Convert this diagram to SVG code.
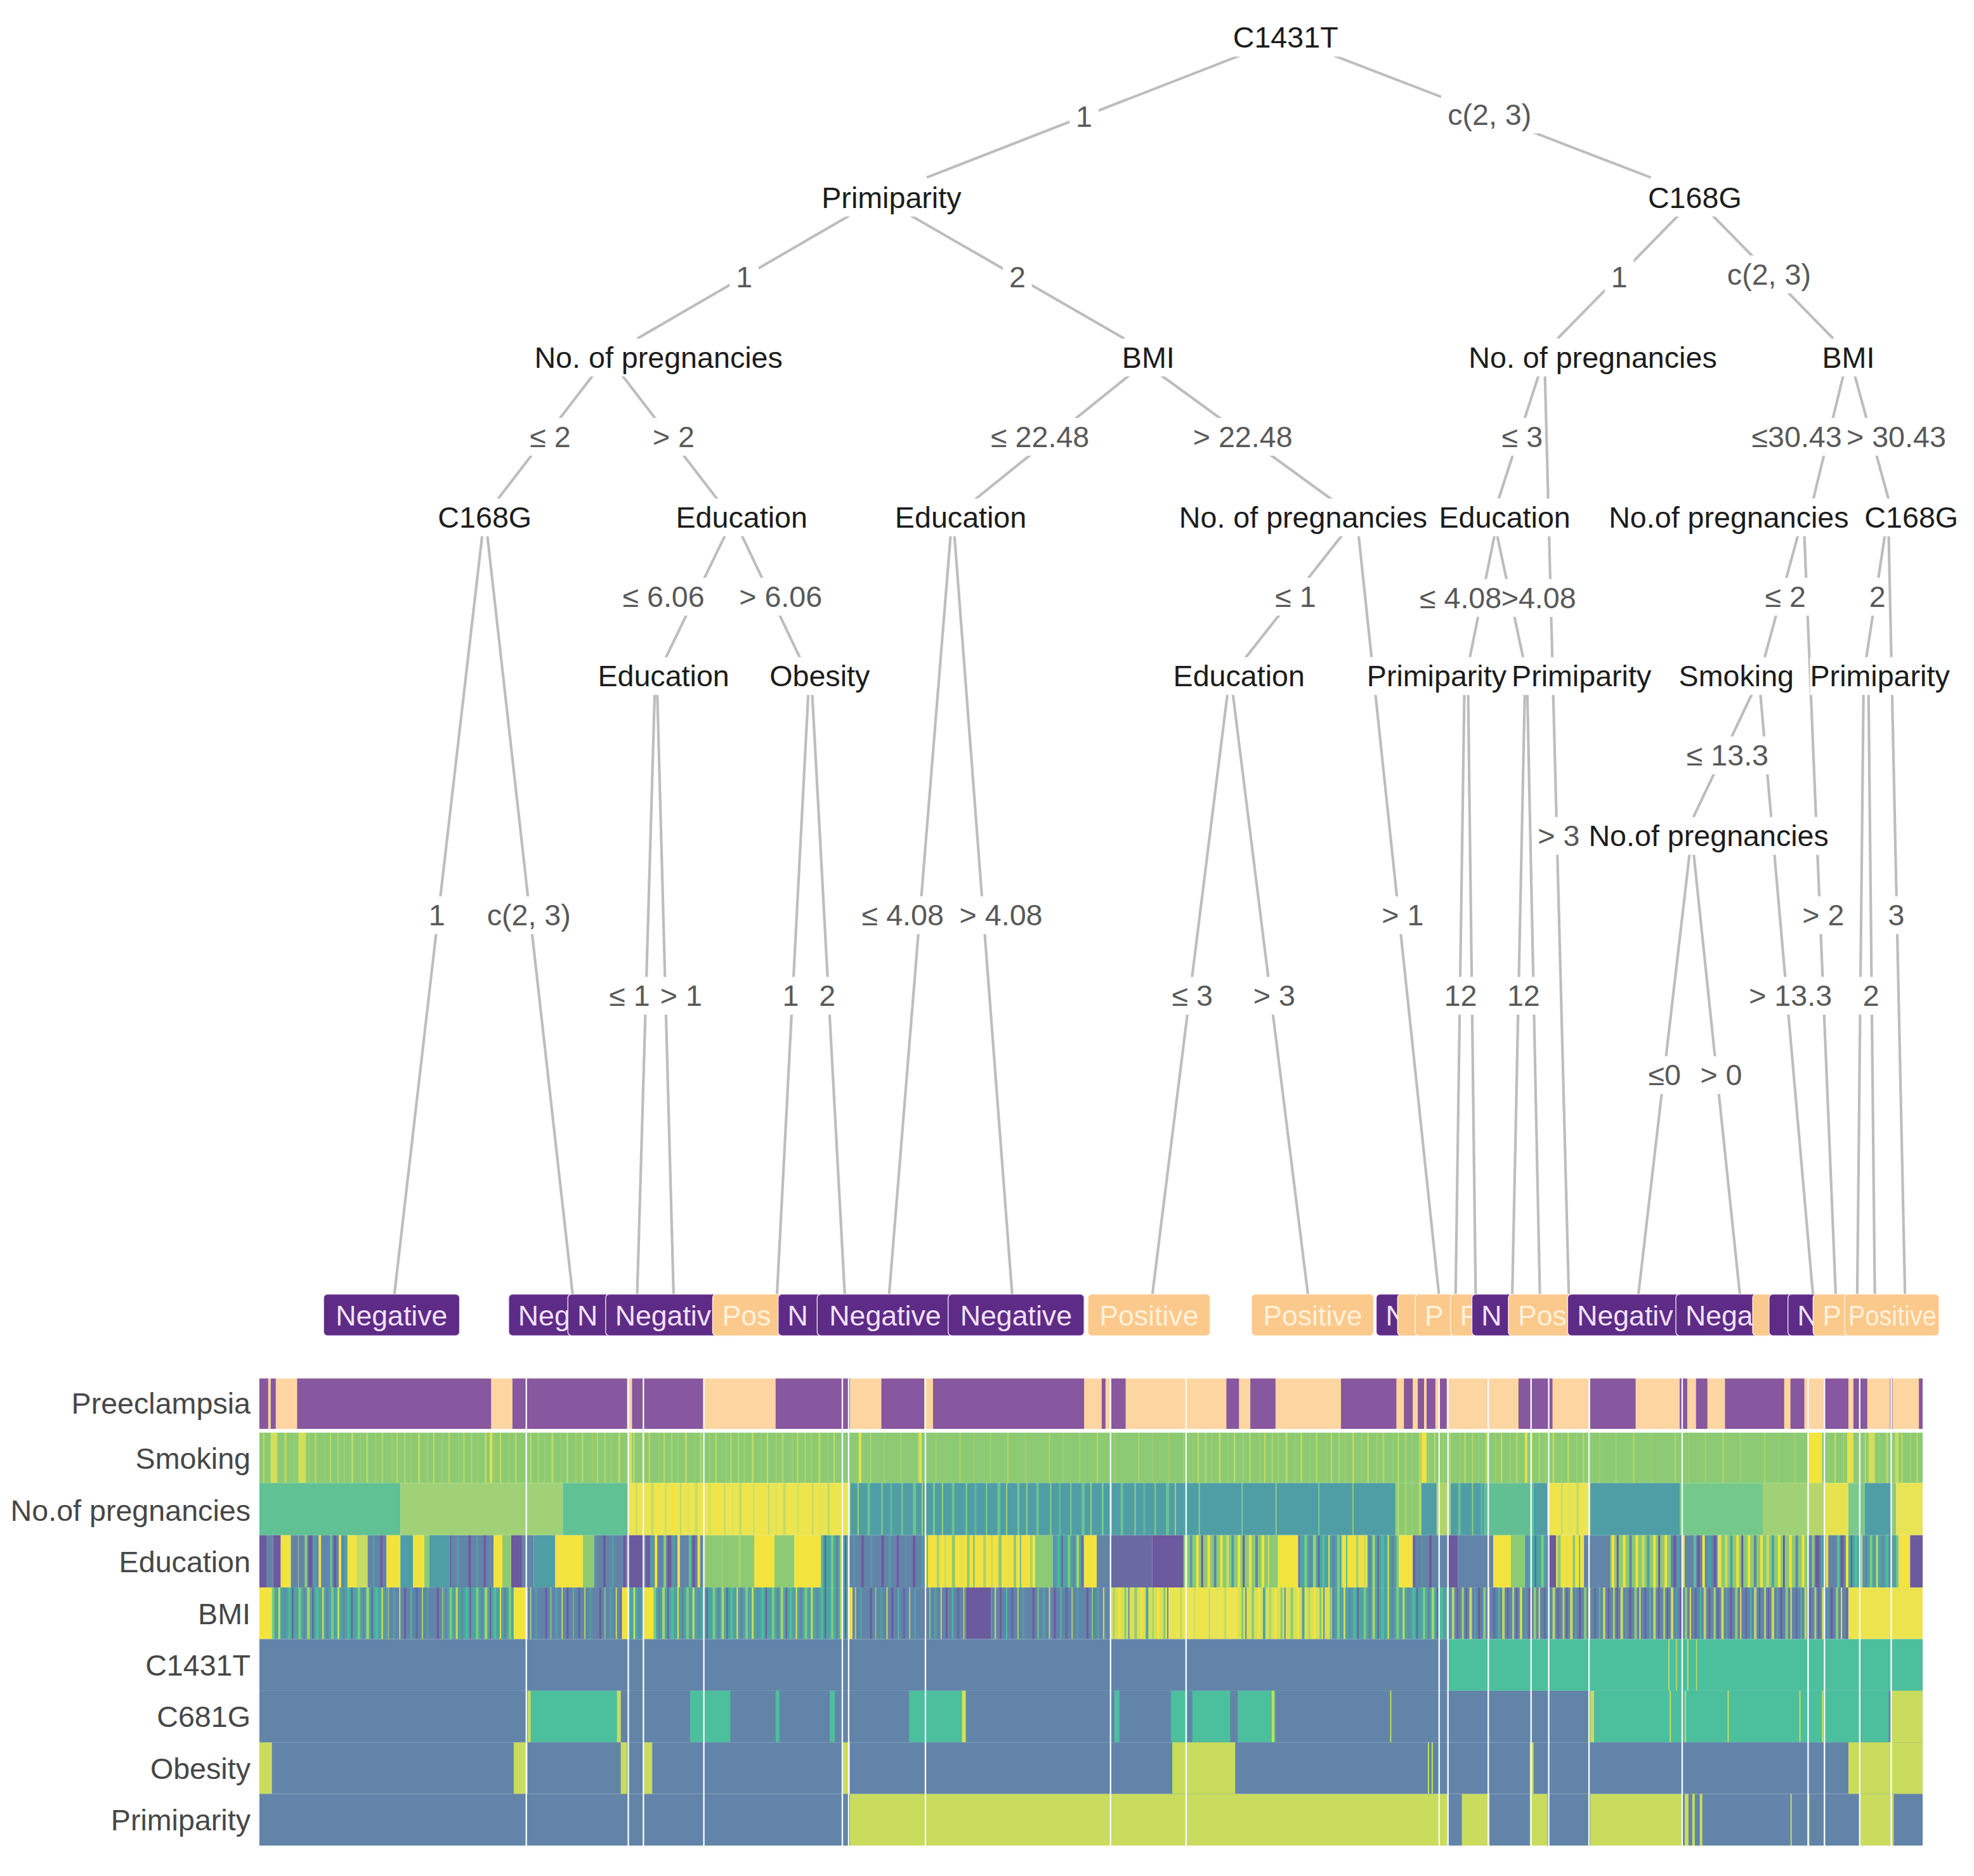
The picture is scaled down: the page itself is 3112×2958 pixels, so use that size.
<svg xmlns="http://www.w3.org/2000/svg" width="3112" height="2958" viewBox="0 0 3112 2958">
<style>
.n{font-family:"Liberation Sans",Arial,sans-serif;font-size:23.5px;fill:#1c1c1c;text-anchor:middle}
.e{font-family:"Liberation Sans",Arial,sans-serif;font-size:23.5px;fill:#595959;text-anchor:middle}
.rl{font-family:"Liberation Sans",Arial,sans-serif;font-size:23.5px;fill:#474747;text-anchor:end}
.lt{font-family:"Liberation Sans",Arial,sans-serif;font-size:22.5px;text-anchor:middle}
.ls{font-family:"Liberation Sans",Arial,sans-serif;font-size:22.5px;text-anchor:start}
.ng{fill:#f1e1fb}.ps{fill:#fff1dc}
.bg{fill:#fff}
.ed line{stroke:#bdbdbd;stroke-width:2.1;fill:none}
.lp{fill:#5e2b86;stroke:#efe4f5;stroke-width:0.7}
.lo{fill:#fbc98b;stroke:#fff4e6;stroke-width:0.7}
.pu{fill:#87579f}.pc{fill:#fdd5a1}.bl{fill:#6384a9}.tg{fill:#4cbf9d}.yg{fill:#c9dc5d}.ye{fill:#f3e33e}.gr{fill:#8ccb74}.te{fill:#4f9ea6}.pr{fill:#6b5a9e}
.sep{fill:#f5f9fc}
</style>
<defs>
<pattern id="pSmk" width="53" height="10" patternUnits="userSpaceOnUse"><rect width="53" height="10" fill="#8ccb74"/><rect x="3" width="1" height="10" fill="#b3d669"/><rect x="8" width="0.7" height="10" fill="#a5d26d"/><rect x="14" width="1.5" height="10" fill="#bfda63"/><rect x="21" width="0.8" height="10" fill="#9fd070"/><rect x="26" width="1" height="10" fill="#c9dd5e"/><rect x="33" width="0.7" height="10" fill="#acd46b"/><rect x="38" width="1.3" height="10" fill="#b7d767"/><rect x="46" width="0.8" height="10" fill="#a0d06f"/><rect x="50" width="1" height="10" fill="#c2db61"/></pattern>
<pattern id="pSmk2" width="71" height="10" patternUnits="userSpaceOnUse"><rect width="71" height="10" fill="#8ccb74"/><rect x="5" width="0.8" height="10" fill="#a9d36b"/><rect x="19" width="1" height="10" fill="#b8d767"/><rect x="33" width="0.8" height="10" fill="#a2d16e"/><rect x="52" width="1" height="10" fill="#b1d569"/><rect x="63" width="0.7" height="10" fill="#a6d26c"/></pattern>
<pattern id="pEdu" width="57" height="10" patternUnits="userSpaceOnUse"><rect width="57" height="10" fill="#6384a9"/><rect x="0" width="3" height="10" fill="#6b5a9e"/><rect x="4" width="2" height="10" fill="#4f9fa6"/><rect x="7" width="2" height="10" fill="#f2e340"/><rect x="14" width="2" height="10" fill="#8ccb74"/><rect x="17" width="3" height="10" fill="#6b5a9e"/><rect x="21" width="2" height="10" fill="#4fa0a6"/><rect x="25" width="2" height="10" fill="#e9e24a"/><rect x="34" width="2" height="10" fill="#5dbf92"/><rect x="37" width="2" height="10" fill="#6b5a9e"/><rect x="41" width="2" height="10" fill="#f4e33c"/><rect x="45" width="3" height="10" fill="#4f9fa6"/><rect x="50" width="2" height="10" fill="#6b5a9e"/><rect x="53" width="2" height="10" fill="#c9dc5d"/></pattern>
<pattern id="pEduB" width="41" height="10" patternUnits="userSpaceOnUse"><rect width="41" height="10" fill="#6384a9"/><rect x="3" width="2" height="10" fill="#6b5a9e"/><rect x="9" width="1.5" height="10" fill="#4f9fa6"/><rect x="15" width="2" height="10" fill="#6d5f9f"/><rect x="22" width="1" height="10" fill="#5b94a8"/><rect x="28" width="2" height="10" fill="#6b5a9e"/><rect x="35" width="1.5" height="10" fill="#4f9fa6"/></pattern>
<pattern id="pEduY" width="37" height="10" patternUnits="userSpaceOnUse"><rect width="37" height="10" fill="#f2e241"/><rect x="4" width="2" height="10" fill="#a8d36b"/><rect x="10" width="1.5" height="10" fill="#c9dc5d"/><rect x="16" width="2.5" height="10" fill="#8ccb74"/><rect x="23" width="1" height="10" fill="#dfe150"/><rect x="28" width="2" height="10" fill="#8ccb74"/><rect x="33" width="1" height="10" fill="#5dbf92"/></pattern>
<pattern id="pEduG" width="33" height="10" patternUnits="userSpaceOnUse"><rect width="33" height="10" fill="#8ccb74"/><rect x="2" width="2" height="10" fill="#f4e33c"/><rect x="7" width="2" height="10" fill="#6384a9"/><rect x="12" width="2" height="10" fill="#f4e33c"/><rect x="17" width="2" height="10" fill="#c9dc5d"/><rect x="21" width="2" height="10" fill="#4f9fa6"/><rect x="26" width="2" height="10" fill="#f4e33c"/><rect x="30" width="1.5" height="10" fill="#6b5a9e"/></pattern>
<pattern id="pBmi" width="47" height="10" patternUnits="userSpaceOnUse"><rect width="47" height="10" fill="#4fa3a3"/><rect x="2" width="2" height="10" fill="#7ccb7c"/><rect x="6" width="1.5" height="10" fill="#6384a9"/><rect x="9" width="2" height="10" fill="#a8d46a"/><rect x="13" width="1" height="10" fill="#6b5a9e"/><rect x="16" width="2" height="10" fill="#4cbf9d"/><rect x="21" width="1" height="10" fill="#f0e342"/><rect x="24" width="2" height="10" fill="#6384a9"/><rect x="28" width="2" height="10" fill="#7ccb7c"/><rect x="33" width="1.5" height="10" fill="#c9dc5d"/><rect x="37" width="2" height="10" fill="#5b8fa8"/><rect x="41" width="1.5" height="10" fill="#4cbf9d"/><rect x="44" width="1" height="10" fill="#6b5a9e"/></pattern>
<pattern id="pBmiB" width="43" height="10" patternUnits="userSpaceOnUse"><rect width="43" height="10" fill="#6384a9"/><rect x="3" width="1.5" height="10" fill="#6b5a9e"/><rect x="7" width="1" height="10" fill="#7ccb7c"/><rect x="11" width="2" height="10" fill="#4f9fa6"/><rect x="16" width="1" height="10" fill="#c9dc5d"/><rect x="20" width="1.5" height="10" fill="#6b5a9e"/><rect x="25" width="1" height="10" fill="#4cbf9d"/><rect x="29" width="2" height="10" fill="#5a6fa3"/><rect x="34" width="1" height="10" fill="#a8d46a"/><rect x="38" width="1.5" height="10" fill="#4f9fa6"/></pattern>
<pattern id="pBmiM" width="40" height="10" patternUnits="userSpaceOnUse"><rect width="40" height="10" fill="#6384a9"/><rect x="1" width="1.5" height="10" fill="#a8d46a"/><rect x="4" width="1" height="10" fill="#6b5a9e"/><rect x="7" width="2" height="10" fill="#c9dc5d"/><rect x="11" width="1" height="10" fill="#4fa3a3"/><rect x="14" width="1.5" height="10" fill="#6b5a9e"/><rect x="18" width="2" height="10" fill="#8ccb74"/><rect x="22" width="1" height="10" fill="#e8e24c"/><rect x="26" width="1.5" height="10" fill="#5a6fa3"/><rect x="30" width="1" height="10" fill="#4cbf9d"/><rect x="33" width="2" height="10" fill="#b7d768"/><rect x="37" width="1" height="10" fill="#6b5a9e"/></pattern>
<pattern id="pBmiY" width="31" height="10" patternUnits="userSpaceOnUse"><rect width="31" height="10" fill="#d7e057"/><rect x="2" width="2" height="10" fill="#8ccb74"/><rect x="7" width="1.5" height="10" fill="#f2e341"/><rect x="11" width="2" height="10" fill="#4fa3a3"/><rect x="16" width="1.5" height="10" fill="#a8d46a"/><rect x="20" width="2" height="10" fill="#f4e33c"/><rect x="25" width="1.5" height="10" fill="#7ccb7c"/><rect x="28" width="1" height="10" fill="#6384a9"/></pattern>
<pattern id="pPregT" width="67" height="10" patternUnits="userSpaceOnUse"><rect width="67" height="10" fill="#4f9ea6"/><rect x="4" width="1.5" height="10" fill="#7cc98a"/><rect x="11" width="1" height="10" fill="#a3d174"/><rect x="19" width="2" height="10" fill="#6cc292"/><rect x="30" width="1" height="10" fill="#98cf78"/><rect x="37" width="1.5" height="10" fill="#5fb89a"/><rect x="46" width="1" height="10" fill="#8ccb80"/><rect x="55" width="2.5" height="10" fill="#6cc292"/><rect x="62" width="1" height="10" fill="#a3d174"/></pattern>
<pattern id="pPregTs" width="61" height="10" patternUnits="userSpaceOnUse"><rect width="61" height="10" fill="#4f9ea6"/><rect x="10" width="1" height="10" fill="#7cc98a"/><rect x="37" width="1" height="10" fill="#8fcc80"/></pattern>
<pattern id="pPregY" width="35" height="10" patternUnits="userSpaceOnUse"><rect width="35" height="10" fill="#ece552"/><rect x="3" width="1.5" height="10" fill="#d4e05a"/><rect x="9" width="2" height="10" fill="#f5e43c"/><rect x="15" width="1" height="10" fill="#bdd966"/><rect x="21" width="1.5" height="10" fill="#e0e257"/><rect x="27" width="2" height="10" fill="#c6dc60"/><rect x="32" width="1" height="10" fill="#f5e43c"/></pattern>
</defs>
<rect width="3112" height="2958" fill="#fff"/>
<g transform="scale(1.985)">
<g id="connectors" class="ed">
<line x1="985" y1="44" x2="736" y2="141"/>
<line x1="1059" y1="44" x2="1311" y2="141"/>
<line x1="675" y1="171" x2="506" y2="269"/>
<line x1="723" y1="171" x2="893" y2="269"/>
<line x1="1333" y1="171" x2="1237" y2="269"/>
<line x1="1360" y1="171" x2="1456" y2="269"/>
<line x1="471" y1="298" x2="395" y2="397"/>
<line x1="494" y1="298" x2="570" y2="397"/>
<line x1="897" y1="298" x2="774" y2="397"/>
<line x1="922" y1="298" x2="1058" y2="397"/>
<line x1="1222" y1="298" x2="1190" y2="397"/>
<line x1="1227" y1="298" x2="1246" y2="1030"/>
<line x1="1464" y1="298" x2="1440" y2="397"/>
<line x1="1473" y1="298" x2="1500" y2="397"/>
<line x1="383" y1="425" x2="313" y2="1030"/>
<line x1="387" y1="425" x2="455" y2="1030"/>
<line x1="576" y1="425" x2="528" y2="524"/>
<line x1="589" y1="425" x2="636" y2="524"/>
<line x1="755" y1="425" x2="706" y2="1030"/>
<line x1="758" y1="425" x2="804" y2="1030"/>
<line x1="1066" y1="425" x2="988" y2="524"/>
<line x1="1079" y1="425" x2="1143" y2="1030"/>
<line x1="1187" y1="425" x2="1167" y2="524"/>
<line x1="1189" y1="425" x2="1210" y2="524"/>
<line x1="1428" y1="425" x2="1401" y2="524"/>
<line x1="1433" y1="425" x2="1458" y2="1030"/>
<line x1="1497" y1="425" x2="1482" y2="524"/>
<line x1="1500" y1="425" x2="1513" y2="1030"/>
<line x1="520" y1="550" x2="506" y2="1030"/>
<line x1="522" y1="550" x2="535" y2="1030"/>
<line x1="642" y1="550" x2="617" y2="1030"/>
<line x1="645" y1="550" x2="671" y2="1030"/>
<line x1="975" y1="550" x2="915" y2="1030"/>
<line x1="979" y1="550" x2="1039" y2="1030"/>
<line x1="1163" y1="550" x2="1156" y2="1030"/>
<line x1="1166" y1="550" x2="1172" y2="1030"/>
<line x1="1211" y1="550" x2="1201" y2="1030"/>
<line x1="1213" y1="550" x2="1223" y2="1030"/>
<line x1="1392" y1="550" x2="1344" y2="651"/>
<line x1="1398" y1="550" x2="1440" y2="1030"/>
<line x1="1480" y1="550" x2="1475" y2="1030"/>
<line x1="1484" y1="550" x2="1489" y2="1030"/>
<line x1="1342" y1="677" x2="1301" y2="1030"/>
<line x1="1345" y1="677" x2="1382" y2="1030"/>
</g>
<g id="edge-labels">
<rect class="bg" x="849.5" y="78" width="23" height="30"/><text class="e" x="861" y="101">1</text>
<rect class="bg" x="1144.5" y="76" width="77" height="30"/><text class="e" x="1183" y="99">c(2, 3)</text>
<rect class="bg" x="579.5" y="205" width="23" height="30"/><text class="e" x="591" y="228">1</text>
<rect class="bg" x="796.5" y="205" width="23" height="30"/><text class="e" x="808" y="228">2</text>
<rect class="bg" x="1274.5" y="205" width="23" height="30"/><text class="e" x="1286" y="228">1</text>
<rect class="bg" x="1366.5" y="203" width="77" height="30"/><text class="e" x="1405" y="226">c(2, 3)</text>
<rect class="bg" x="415.5" y="332" width="43" height="30"/><text class="e" x="437" y="355">≤ 2</text>
<rect class="bg" x="513.5" y="332" width="43" height="30"/><text class="e" x="535" y="355">&gt; 2</text>
<rect class="bg" x="782" y="332" width="88" height="30"/><text class="e" x="826" y="355">≤ 22.48</text>
<rect class="bg" x="942.5" y="332" width="89" height="30"/><text class="e" x="987" y="355">&gt; 22.48</text>
<rect class="bg" x="1189" y="332" width="37" height="30"/><text class="e" x="1209" y="355">≤ 3</text>
<rect class="bg" x="1386" y="332" width="82" height="30"/><text class="e" x="1427" y="355">≤30.43</text>
<rect class="bg" x="1466.5" y="332" width="83" height="30"/><text class="e" x="1506" y="355">&gt; 30.43</text>
<rect class="bg" x="489.5" y="459" width="75" height="30"/><text class="e" x="527" y="482">≤ 6.06</text>
<rect class="bg" x="582" y="459" width="76" height="30"/><text class="e" x="620" y="482">&gt; 6.06</text>
<rect class="bg" x="1007.5" y="459" width="43" height="30"/><text class="e" x="1029" y="482">≤ 1</text>
<rect class="bg" x="1124.5" y="460" width="70" height="30"/><text class="e" x="1160" y="483">≤ 4.08</text>
<rect class="bg" x="1192" y="460" width="62" height="30"/><text class="e" x="1222" y="483">&gt;4.08</text>
<rect class="bg" x="1396.5" y="459" width="43" height="30"/><text class="e" x="1418" y="482">≤ 2</text>
<rect class="bg" x="1483" y="459" width="16" height="30"/><text class="e" x="1491" y="482">2</text>
<rect class="bg" x="1334.5" y="585" width="75" height="30"/><text class="e" x="1372" y="608">≤ 13.3</text>
<rect class="bg" x="1217.5" y="649" width="41" height="30"/><text class="e" x="1238" y="672">&gt; 3</text>
<rect class="bg" x="335.5" y="712" width="23" height="30"/><text class="e" x="347" y="735">1</text>
<rect class="bg" x="381.5" y="712" width="77" height="30"/><text class="e" x="420" y="735">c(2, 3)</text>
<rect class="bg" x="679.5" y="712" width="75" height="30"/><text class="e" x="717" y="735">≤ 4.08</text>
<rect class="bg" x="757" y="712" width="76" height="30"/><text class="e" x="795" y="735">&gt; 4.08</text>
<rect class="bg" x="1092.5" y="712" width="43" height="30"/><text class="e" x="1114" y="735">&gt; 1</text>
<rect class="bg" x="1426.5" y="712" width="43" height="30"/><text class="e" x="1448" y="735">&gt; 2</text>
<rect class="bg" x="1494.5" y="712" width="23" height="30"/><text class="e" x="1506" y="735">3</text>
<rect class="bg" x="478.5" y="776" width="43" height="30"/><text class="e" x="500" y="799">≤ 1</text>
<rect class="bg" x="519.5" y="776" width="43" height="30"/><text class="e" x="541" y="799">&gt; 1</text>
<rect class="bg" x="616.5" y="776" width="23" height="30"/><text class="e" x="628" y="799">1</text>
<rect class="bg" x="645.5" y="776" width="23" height="30"/><text class="e" x="657" y="799">2</text>
<rect class="bg" x="925.5" y="776" width="43" height="30"/><text class="e" x="947" y="799">≤ 3</text>
<rect class="bg" x="990.5" y="776" width="43" height="30"/><text class="e" x="1012" y="799">&gt; 3</text>
<rect class="bg" x="1142" y="776" width="36" height="30"/><text class="e" x="1160" y="799">12</text>
<rect class="bg" x="1192" y="776" width="36" height="30"/><text class="e" x="1210" y="799">12</text>
<rect class="bg" x="1384" y="776" width="76" height="30"/><text class="e" x="1422" y="799">&gt; 13.3</text>
<rect class="bg" x="1474.5" y="776" width="23" height="30"/><text class="e" x="1486" y="799">2</text>
<rect class="bg" x="1304" y="839" width="36" height="30"/><text class="e" x="1322" y="862">≤0</text>
<rect class="bg" x="1345.5" y="839" width="43" height="30"/><text class="e" x="1367" y="862">&gt; 0</text>
</g>
<g id="node-C1431T"><rect class="bg" x="975" y="15" width="92" height="30"/><text class="n" x="1021" y="38">C1431T</text></g>
<g id="node-Primiparity-1"><rect class="bg" x="648.5" y="142" width="119" height="30"/><text class="n" x="708" y="165">Primiparity</text></g>
<g id="node-C168G-1"><rect class="bg" x="1305" y="142" width="82" height="30"/><text class="n" x="1346" y="165">C168G</text></g>
<g id="node-Pregnancies-1"><rect class="bg" x="420.5" y="269" width="205" height="30"/><text class="n" x="523" y="292">No. of pregnancies</text></g>
<g id="node-BMI-1"><rect class="bg" x="887" y="269" width="50" height="30"/><text class="n" x="912" y="292">BMI</text></g>
<g id="node-Pregnancies-2"><rect class="bg" x="1162.5" y="269" width="205" height="30"/><text class="n" x="1265" y="292">No. of pregnancies</text></g>
<g id="node-BMI-2"><rect class="bg" x="1443" y="269" width="50" height="30"/><text class="n" x="1468" y="292">BMI</text></g>
<g id="node-C168G-2"><rect class="bg" x="344" y="396" width="82" height="30"/><text class="n" x="385" y="419">C168G</text></g>
<g id="node-Education-1"><rect class="bg" x="533" y="396" width="112" height="30"/><text class="n" x="589" y="419">Education</text></g>
<g id="node-Education-2"><rect class="bg" x="707" y="396" width="112" height="30"/><text class="n" x="763" y="419">Education</text></g>
<g id="node-Pregnancies-3"><rect class="bg" x="932.5" y="396" width="205" height="30"/><text class="n" x="1035" y="419">No. of pregnancies</text></g>
<g id="node-Education-3"><rect class="bg" x="1139" y="396" width="112" height="30"/><text class="n" x="1195" y="419">Education</text></g>
<g id="node-Pregnancies-4"><rect class="bg" x="1274" y="396" width="198" height="30"/><text class="n" x="1373" y="419">No.of pregnancies</text></g>
<g id="node-C168G-3"><rect class="bg" x="1477" y="396" width="82" height="30"/><text class="n" x="1518" y="419">C168G</text></g>
<g id="node-Education-4"><rect class="bg" x="471" y="522" width="112" height="30"/><text class="n" x="527" y="545">Education</text></g>
<g id="node-Obesity"><rect class="bg" x="607" y="522" width="88" height="30"/><text class="n" x="651" y="545">Obesity</text></g>
<g id="node-Education-5"><rect class="bg" x="928" y="522" width="112" height="30"/><text class="n" x="984" y="545">Education</text></g>
<g id="node-Primiparity-2"><rect class="bg" x="1081.5" y="522" width="119" height="30"/><text class="n" x="1141" y="545">Primiparity</text></g>
<g id="node-Primiparity-3"><rect class="bg" x="1196.5" y="522" width="119" height="30"/><text class="n" x="1256" y="545">Primiparity</text></g>
<g id="node-Smoking"><rect class="bg" x="1333" y="522" width="92" height="30"/><text class="n" x="1379" y="545">Smoking</text></g>
<g id="node-Primiparity-4"><rect class="bg" x="1437.5" y="522" width="111" height="30"/><text class="n" x="1493" y="545">Primiparity</text></g>
<g id="node-Pregnancies-5"><rect class="bg" x="1258" y="649" width="198" height="30"/><text class="n" x="1357" y="672">No.of pregnancies</text></g>
<g id="leaves">
<g id="leaf-1"><rect class="lp" x="257" y="1028" width="108" height="33" rx="3"/><text class="lt ng" x="311" y="1053">Negative</text></g>
<g id="leaf-2"><rect class="lp" x="404" y="1028" width="108" height="33" rx="3"/><svg x="404" y="1028" width="47" height="33"><text class="ls ng" x="7.5" y="25">Neg</text></svg></g>
<g id="leaf-3"><rect class="lp" x="451" y="1028" width="108" height="33" rx="3"/><svg x="451" y="1028" width="30" height="33"><text class="ls ng" x="7.5" y="25">N</text></svg></g>
<g id="leaf-4"><rect class="lp" x="481" y="1028" width="108" height="33" rx="3"/><svg x="481" y="1028" width="85" height="33"><text class="ls ng" x="7.5" y="25">Negativ</text></svg></g>
<g id="leaf-5"><rect class="lo" x="566" y="1028" width="97" height="33" rx="3"/><svg x="566" y="1028" width="52" height="33"><text class="ls ps" x="7.5" y="25">Pos</text></svg></g>
<g id="leaf-6"><rect class="lp" x="618" y="1028" width="108" height="33" rx="3"/><svg x="618" y="1028" width="31" height="33"><text class="ls ng" x="7.5" y="25">N</text></svg></g>
<g id="leaf-7"><rect class="lp" x="649" y="1028" width="108" height="33" rx="3"/><text class="lt ng" x="703" y="1053">Negative</text></g>
<g id="leaf-8"><rect class="lp" x="753" y="1028" width="108" height="33" rx="3"/><text class="lt ng" x="807" y="1053">Negative</text></g>
<g id="leaf-9"><rect class="lo" x="864" y="1028" width="97" height="33" rx="3"/><text class="lt ps" x="912.5" y="1053">Positive</text></g>
<g id="leaf-10"><rect class="lo" x="994" y="1028" width="97" height="33" rx="3"/><text class="lt ps" x="1042.5" y="1053">Positive</text></g>
<g id="leaf-11"><rect class="lp" x="1093" y="1028" width="108" height="33" rx="3"/><svg x="1093" y="1028" width="17" height="33"><text class="ls ng" x="7.5" y="25">N</text></svg></g>
<g id="leaf-12"><rect class="lo" x="1110" y="1028" width="97" height="33" rx="3"/></g>
<g id="leaf-13"><rect class="lo" x="1124" y="1028" width="97" height="33" rx="3"/><svg x="1124" y="1028" width="28" height="33"><text class="ls ps" x="7.5" y="25">P</text></svg></g>
<g id="leaf-14"><rect class="lo" x="1152" y="1028" width="97" height="33" rx="3"/><svg x="1152" y="1028" width="17" height="33"><text class="ls ps" x="7.5" y="25">P</text></svg></g>
<g id="leaf-15"><rect class="lp" x="1169" y="1028" width="108" height="33" rx="3"/><svg x="1169" y="1028" width="29" height="33"><text class="ls ng" x="7.5" y="25">N</text></svg></g>
<g id="leaf-16"><rect class="lo" x="1198" y="1028" width="97" height="33" rx="3"/><svg x="1198" y="1028" width="47" height="33"><text class="ls ps" x="7.5" y="25">Pos</text></svg></g>
<g id="leaf-17"><rect class="lp" x="1245" y="1028" width="108" height="33" rx="3"/><svg x="1245" y="1028" width="86" height="33"><text class="ls ng" x="7.5" y="25">Negativ</text></svg></g>
<g id="leaf-18"><rect class="lp" x="1331" y="1028" width="108" height="33" rx="3"/><svg x="1331" y="1028" width="61" height="33"><text class="ls ng" x="7.5" y="25">Nega</text></svg></g>
<g id="leaf-19"><rect class="lo" x="1392" y="1028" width="97" height="33" rx="3"/></g>
<g id="leaf-20"><rect class="lp" x="1405" y="1028" width="108" height="33" rx="3"/></g>
<g id="leaf-21"><rect class="lp" x="1420" y="1028" width="108" height="33" rx="3"/><svg x="1420" y="1028" width="20" height="33"><text class="ls ng" x="7.5" y="25">N</text></svg></g>
<g id="leaf-22"><rect class="lo" x="1440" y="1028" width="97" height="33" rx="3"/><svg x="1440" y="1028" width="25" height="33"><text class="ls ps" x="7.5" y="25">P</text></svg></g>
<g id="leaf-23"><rect class="lo" x="1465" y="1028" width="75" height="33" rx="3"/><text class="lt ps" x="1503" y="1053" textLength="70" lengthAdjust="spacingAndGlyphs">Positive</text></g>
</g>
<g id="heatmap">
<g id="row-labels">
<text class="rl" x="199" y="1123">Preeclampsia</text>
<text class="rl" x="199" y="1167">Smoking</text>
<text class="rl" x="199" y="1208">No.of pregnancies</text>
<text class="rl" x="199" y="1249">Education</text>
<text class="rl" x="199" y="1290">BMI</text>
<text class="rl" x="199" y="1331">C1431T</text>
<text class="rl" x="199" y="1372">C681G</text>
<text class="rl" x="199" y="1413">Obesity</text>
<text class="rl" x="199" y="1454">Primiparity</text>
</g>
<g id="row-preeclampsia">
<rect class="pc" x="206" y="1095" width="1321" height="40"/>
<rect class="pu" x="206" y="1095" width="7" height="40"/><rect class="pu" x="215" y="1095" width="4" height="40"/><rect class="pu" x="236" y="1095" width="154" height="40"/><rect class="pu" x="407" y="1095" width="91" height="40"/><rect class="pu" x="502" y="1095" width="57" height="40"/><rect class="pu" x="616" y="1095" width="59" height="40"/><rect class="pu" x="700" y="1095" width="34" height="40"/><rect class="pu" x="741" y="1095" width="120" height="40"/><rect class="pu" x="875" y="1095" width="3" height="40"/><rect class="pu" x="882" y="1095" width="12" height="40"/><rect class="pu" x="974" y="1095" width="10" height="40"/><rect class="pu" x="993" y="1095" width="20" height="40"/><rect class="pu" x="1065" y="1095" width="44" height="40"/><rect class="pu" x="1115" y="1095" width="7" height="40"/><rect class="pu" x="1126" y="1095" width="5" height="40"/><rect class="pu" x="1133" y="1095" width="7" height="40"/><rect class="pu" x="1143" y="1095" width="6" height="40"/><rect class="pu" x="1206" y="1095" width="27" height="40"/><rect class="pu" x="1263" y="1095" width="36" height="40"/><rect class="pu" x="1334" y="1095" width="6" height="40"/><rect class="pu" x="1347" y="1095" width="9" height="40"/><rect class="pu" x="1370" y="1095" width="47" height="40"/><rect class="pu" x="1422" y="1095" width="11" height="40"/><rect class="pu" x="1449" y="1095" width="19" height="40"/><rect class="pu" x="1472" y="1095" width="11" height="40"/><rect class="pu" x="1501" y="1095" width="2" height="40"/><rect class="pu" x="1524" y="1095" width="3" height="40"/>
</g>
<g id="row-smoking">
<rect x="206" y="1138" width="468" height="40" fill="url(#pSmk)"/>
<rect x="674" y="1138" width="266" height="40" fill="url(#pSmk2)"/>
<rect x="940" y="1138" width="320" height="40" fill="url(#pSmk)"/>
<rect x="1260" y="1138" width="176" height="40" fill="url(#pSmk2)"/>
<rect x="1436" y="1138" width="11" height="40" fill="#f3e43e"/>
<rect x="1447" y="1138" width="80" height="40" fill="url(#pSmk)"/>
<rect x="215" y="1138" width="5" height="40" fill="#d5e05a"/><rect x="237" y="1138" width="6" height="40" fill="#cfe05c"/><rect x="389" y="1138" width="2" height="40" fill="#e2e252"/><rect x="499" y="1138" width="3" height="40" fill="#d5e05a"/><rect x="682" y="1138" width="2" height="40" fill="#e8e24c"/><rect x="730" y="1138" width="2" height="40" fill="#e0e152"/><rect x="1129" y="1138" width="4" height="40" fill="#f0e342"/><rect x="1211" y="1138" width="2" height="40" fill="#e4e250"/><rect x="1467" y="1138" width="5" height="40" fill="#e6e24e"/><rect x="1484" y="1138" width="5" height="40" fill="#d2df5a"/><rect x="1505" y="1138" width="3" height="40" fill="#c6dc60"/>
</g>
<g id="row-pregnancies">
<rect x="206" y="1178" width="112" height="41.5" fill="#5fc194"/>
<rect x="318" y="1178" width="129" height="41.5" fill="#a1d176"/>
<rect x="447" y="1178" width="52" height="41.5" fill="#5fc194"/>
<rect x="499" y="1178" width="176" height="41.5" fill="url(#pPregY)"/>
<rect x="675" y="1178" width="265" height="41.5" fill="url(#pPregT)"/>
<rect x="940" y="1178" width="169" height="41.5" fill="url(#pPregTs)"/>
<rect x="1109" y="1178" width="20" height="41.5" fill="url(#pSmk)"/>
<rect class="te" x="1129" y="1178" width="12" height="41.5"/>
<rect x="1141" y="1178" width="11" height="41.5" fill="#b0d46a"/>
<rect x="1152" y="1178" width="27" height="41.5" fill="url(#pPregT)"/>
<rect x="1179" y="1178" width="39" height="41.5" fill="#62bf93"/>
<rect class="te" x="1218" y="1178" width="11" height="41.5"/>
<rect x="1229" y="1178" width="34" height="41.5" fill="url(#pPregY)"/>
<rect class="te" x="1263" y="1178" width="71" height="41.5"/>
<rect x="1334" y="1178" width="66" height="41.5" fill="#74c98a"/>
<rect x="1400" y="1178" width="36" height="41.5" fill="#a1d176"/>
<rect x="1436" y="1178" width="13" height="41.5" fill="#b6d66b"/>
<rect x="1449" y="1178" width="19" height="41.5" fill="#e6e34f"/>
<rect x="1468" y="1178" width="13" height="41.5" fill="#7cc98a"/>
<rect class="te" x="1481" y="1178" width="21" height="41.5"/>
<rect class="gr" x="1502" y="1178" width="4" height="41.5"/>
<rect x="1506" y="1178" width="21" height="41.5" fill="#e8e455"/>
</g>
<g id="row-education">
<rect class="pr" x="206" y="1219.5" width="6" height="41.5"/><rect class="bl" x="212" y="1219.5" width="5" height="41.5"/><rect class="pr" x="217" y="1219.5" width="6" height="41.5"/><rect class="ye" x="223" y="1219.5" width="8" height="41.5"/><rect class="bl" x="231" y="1219.5" width="6" height="41.5"/>
<rect x="237" y="1219.5" width="39" height="41.5" fill="url(#pEdu)"/><rect class="ye" x="276" y="1219.5" width="7" height="41.5"/><rect class="yg" x="283" y="1219.5" width="9" height="41.5"/><rect x="292" y="1219.5" width="15" height="41.5" fill="url(#pEduB)"/><rect class="ye" x="307" y="1219.5" width="11" height="41.5"/><rect class="te" x="318" y="1219.5" width="10" height="41.5"/><rect class="ye" x="328" y="1219.5" width="9" height="41.5"/><rect class="gr" x="337" y="1219.5" width="4" height="41.5"/><rect class="te" x="341" y="1219.5" width="16" height="41.5"/>
<rect x="357" y="1219.5" width="32" height="41.5" fill="url(#pEduB)"/><rect class="bl" x="389" y="1219.5" width="3" height="41.5"/><rect class="ye" x="392" y="1219.5" width="7" height="41.5"/><rect class="gr" x="399" y="1219.5" width="7" height="41.5"/><rect class="pr" x="406" y="1219.5" width="9" height="41.5"/><rect class="bl" x="415" y="1219.5" width="9" height="41.5"/><rect class="te" x="424" y="1219.5" width="17" height="41.5"/><rect class="ye" x="441" y="1219.5" width="22" height="41.5"/><rect class="gr" x="463" y="1219.5" width="9" height="41.5"/>
<rect x="472" y="1219.5" width="26" height="41.5" fill="url(#pEduB)"/><rect class="pr" x="498" y="1219.5" width="14" height="41.5"/><rect x="512" y="1219.5" width="47" height="41.5" fill="url(#pEdu)"/><rect x="559" y="1219.5" width="40" height="41.5" fill="url(#pSmk2)"/><rect class="ye" x="599" y="1219.5" width="16" height="41.5"/><rect class="gr" x="615" y="1219.5" width="16" height="41.5"/><rect class="ye" x="631" y="1219.5" width="21" height="41.5"/><rect x="652" y="1219.5" width="23" height="41.5" fill="url(#pBmi)"/>
<rect x="675" y="1219.5" width="60" height="41.5" fill="url(#pEduB)"/><rect x="735" y="1219.5" width="87" height="41.5" fill="url(#pEduY)"/><rect class="gr" x="822" y="1219.5" width="14" height="41.5"/><rect x="836" y="1219.5" width="25" height="41.5" fill="url(#pBmi)"/><rect class="ye" x="861" y="1219.5" width="10" height="41.5"/><rect class="bl" x="871" y="1219.5" width="11" height="41.5"/><rect x="882" y="1219.5" width="33" height="41.5" fill="#6a6aa2"/><rect class="pr" x="915" y="1219.5" width="25" height="41.5"/>
<rect x="940" y="1219.5" width="68" height="41.5" fill="url(#pEduG)"/><rect class="gr" x="1008" y="1219.5" width="7" height="41.5"/><rect class="ye" x="1015" y="1219.5" width="16" height="41.5"/><rect x="1031" y="1219.5" width="34" height="41.5" fill="url(#pBmi)"/><rect x="1065" y="1219.5" width="21" height="41.5" fill="url(#pEduY)"/><rect x="1086" y="1219.5" width="25" height="41.5" fill="url(#pBmi)"/><rect class="ye" x="1111" y="1219.5" width="11" height="41.5"/><rect x="1122" y="1219.5" width="28" height="41.5" fill="url(#pEduB)"/>
<rect class="pr" x="1150" y="1219.5" width="8" height="41.5"/><rect class="bl" x="1158" y="1219.5" width="28" height="41.5"/><rect class="ye" x="1186" y="1219.5" width="14" height="41.5"/><rect class="gr" x="1200" y="1219.5" width="11" height="41.5"/><rect x="1211" y="1219.5" width="18" height="41.5" fill="url(#pBmi)"/><rect class="pr" x="1229" y="1219.5" width="7" height="41.5"/><rect x="1236" y="1219.5" width="22" height="41.5" fill="url(#pEduY)"/><rect class="bl" x="1258" y="1219.5" width="21" height="41.5"/>
<rect x="1279" y="1219.5" width="50" height="41.5" fill="url(#pEduG)"/><rect x="1329" y="1219.5" width="36" height="41.5" fill="url(#pEdu)"/><rect x="1365" y="1219.5" width="71" height="41.5" fill="url(#pEduG)"/><rect x="1436" y="1219.5" width="32" height="41.5" fill="url(#pEdu)"/><rect x="1468" y="1219.5" width="40" height="41.5" fill="url(#pBmi)"/><rect class="ye" x="1508" y="1219.5" width="9" height="41.5"/><rect class="pr" x="1517" y="1219.5" width="10" height="41.5"/>
</g>
<g id="row-bmi">
<rect class="ye" x="206" y="1261" width="10" height="41"/><rect x="216" y="1261" width="91" height="41" fill="url(#pBmi)"/><rect x="307" y="1261" width="46" height="41" fill="url(#pBmiB)"/><rect x="353" y="1261" width="55" height="41" fill="url(#pBmi)"/><rect class="ye" x="408" y="1261" width="11" height="41"/><rect x="419" y="1261" width="75" height="41" fill="url(#pBmiB)"/><rect class="ye" x="494" y="1261" width="5" height="41"/><rect x="499" y="1261" width="12" height="41" fill="url(#pBmi)"/><rect class="ye" x="511" y="1261" width="8" height="41"/><rect x="519" y="1261" width="155" height="41" fill="url(#pBmi)"/><rect class="ye" x="674" y="1261" width="3" height="41"/>
<rect x="677" y="1261" width="90" height="41" fill="url(#pBmiB)"/><rect class="pr" x="767" y="1261" width="20" height="41"/><rect x="787" y="1261" width="91" height="41" fill="url(#pBmiB)"/><rect class="bl" x="878" y="1261" width="4" height="41"/><rect x="882" y="1261" width="46" height="41" fill="url(#pBmiY)"/><rect x="928" y="1261" width="53" height="41" fill="url(#pPregY)"/><rect x="981" y="1261" width="77" height="41" fill="url(#pBmiY)"/><rect x="1058" y="1261" width="92" height="41" fill="url(#pBmi)"/><rect x="1150" y="1261" width="318" height="41" fill="url(#pBmiM)"/><rect x="1468" y="1261" width="59" height="41" fill="#ece44f"/>
</g>
<g id="row-c1431t">
<rect class="bl" x="206" y="1302" width="944" height="41"/><rect class="tg" x="1150" y="1302" width="377" height="41"/>
<rect class="yg" x="1325" y="1302" width="1" height="41"/><rect class="yg" x="1331" y="1302" width="0.8" height="41"/><rect class="yg" x="1340" y="1302" width="1" height="41"/><rect class="yg" x="1347" y="1302" width="0.8" height="41"/>
</g>
<g id="row-c681g">
<rect class="bl" x="206" y="1343" width="1321" height="41"/>
<rect class="tg" x="419" y="1343" width="74" height="41"/><rect class="tg" x="548" y="1343" width="32" height="41"/><rect class="tg" x="616" y="1343" width="3" height="41"/><rect class="tg" x="659" y="1343" width="4" height="41"/><rect class="tg" x="722" y="1343" width="45" height="41"/><rect class="tg" x="885" y="1343" width="4" height="41"/><rect class="tg" x="930" y="1343" width="13" height="41"/><rect class="tg" x="947" y="1343" width="30" height="41"/><rect class="tg" x="983" y="1343" width="30" height="41"/><rect class="tg" x="1266" y="1343" width="234" height="41"/>
<rect class="yg" x="419" y="1343" width="2.5" height="41"/><rect class="yg" x="490" y="1343" width="3" height="41"/><rect x="764" y="1343" width="3" height="41" fill="#d7df55"/><rect class="yg" x="1010" y="1343" width="2" height="41"/><rect class="yg" x="1104" y="1343" width="1" height="41"/><rect class="yg" x="1263" y="1343" width="3" height="41"/><rect class="yg" x="1326" y="1343" width="1" height="41"/><rect class="yg" x="1338" y="1343" width="1" height="41"/><rect class="yg" x="1372" y="1343" width="1" height="41"/><rect class="yg" x="1429" y="1343" width="1" height="41"/><rect class="yg" x="1447" y="1343" width="1" height="41"/><rect class="yg" x="1502" y="1343" width="25" height="41"/>
</g>
<g id="row-obesity">
<rect class="bl" x="206" y="1384" width="1321" height="41"/>
<rect class="yg" x="206" y="1384" width="10" height="41"/><rect class="yg" x="408" y="1384" width="11" height="41"/><rect class="yg" x="493" y="1384" width="5" height="41"/><rect class="yg" x="511" y="1384" width="7" height="41"/><rect class="yg" x="669" y="1384" width="6" height="41"/><rect class="yg" x="931" y="1384" width="50" height="41"/><rect class="yg" x="1134" y="1384" width="1" height="41"/><rect class="yg" x="1137" y="1384" width="1" height="41"/><rect class="yg" x="1215" y="1384" width="3" height="41"/><rect class="yg" x="1468" y="1384" width="59" height="41"/>
</g>
<g id="row-primiparity">
<rect class="bl" x="206" y="1425" width="1321" height="41"/>
<rect class="yg" x="675" y="1425" width="475" height="41"/><rect class="yg" x="1161" y="1425" width="22" height="41"/><rect class="yg" x="1215" y="1425" width="14" height="41"/><rect class="yg" x="1263" y="1425" width="73" height="41"/><rect class="yg" x="1338" y="1425" width="3" height="41"/><rect class="yg" x="1344" y="1425" width="2" height="41"/><rect class="yg" x="1350" y="1425" width="2" height="41"/><rect class="yg" x="1422" y="1425" width="1" height="41"/><rect class="yg" x="1436" y="1425" width="1" height="41"/><rect class="yg" x="1477" y="1425" width="27" height="41"/>
</g>
<g id="separators">
<rect class="sep" x="417.4" y="1095" width="1.2" height="371"/><rect class="sep" x="498.4" y="1095" width="1.2" height="371"/><rect class="sep" x="510.4" y="1095" width="1.2" height="371"/><rect class="sep" x="558.4" y="1095" width="1.2" height="371"/><rect class="sep" x="668.4" y="1095" width="1.2" height="371"/><rect class="sep" x="673.4" y="1095" width="1.2" height="371"/><rect class="sep" x="734.4" y="1095" width="1.2" height="371"/><rect class="sep" x="881.4" y="1095" width="1.2" height="371"/><rect class="sep" x="941.4" y="1095" width="1.2" height="371"/><rect class="sep" x="1142.4" y="1095" width="1.2" height="371"/><rect class="sep" x="1149.4" y="1095" width="1.2" height="371"/><rect class="sep" x="1181.4" y="1095" width="1.2" height="371"/><rect class="sep" x="1215.4" y="1095" width="1.2" height="371"/><rect class="sep" x="1229.4" y="1095" width="1.2" height="371"/><rect class="sep" x="1261.4" y="1095" width="1.2" height="371"/><rect class="sep" x="1335.4" y="1095" width="1.2" height="371"/><rect class="sep" x="1435.4" y="1095" width="1.2" height="371"/><rect class="sep" x="1448.4" y="1095" width="1.2" height="371"/><rect class="sep" x="1476.4" y="1095" width="1.2" height="371"/><rect class="sep" x="1501.4" y="1095" width="1.2" height="371"/>
</g>
</g>
</g>
</svg>
